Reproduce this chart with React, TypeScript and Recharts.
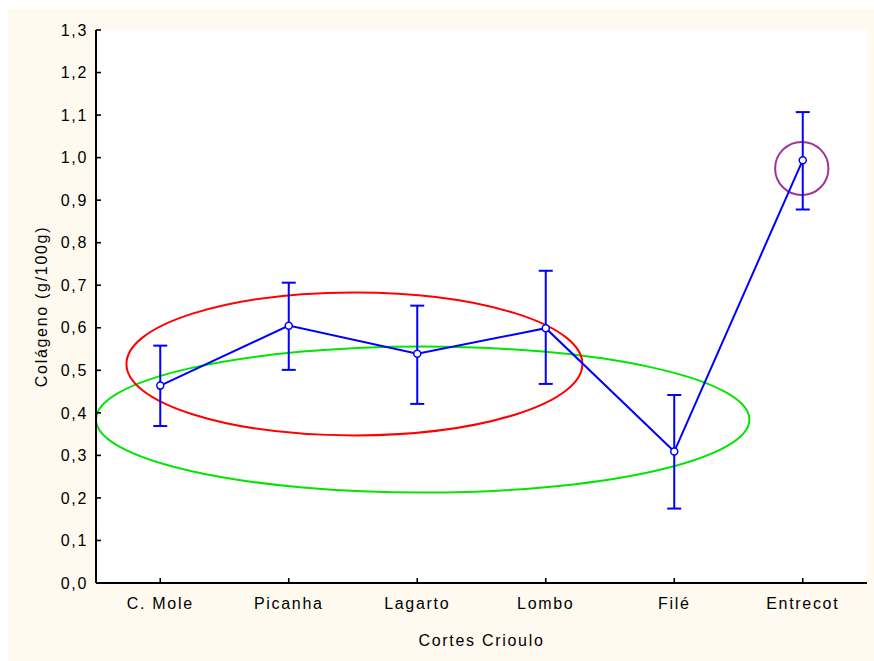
import React from "react";
import {
  CartesianGrid,
  ErrorBar,
  Line,
  LineChart,
  ReferenceArea,
  XAxis,
  YAxis,
} from "recharts";

const categories = ["C. Mole", "Picanha", "Lagarto", "Lombo", "Filé", "Entrecot"];
const means = [0.464, 0.605, 0.539, 0.599, 0.309, 0.994];
const upper = [0.558, 0.706, 0.652, 0.734, 0.442, 1.107];
const lower = [0.369, 0.501, 0.421, 0.468, 0.175, 0.878];
const xTicks = [0, 1, 2, 3, 4, 5];
const yTicks = [0, 0.1, 0.2, 0.3, 0.4, 0.5, 0.6, 0.7, 0.8, 0.9, 1.0, 1.1, 1.2, 1.3];

// annotation ellipses, bounds in data units: [x1, x2, y1, y2]
const redEllipse = [-0.263, 3.285, 0.347, 0.683];
const greenEllipse = [-0.5, 4.585, 0.2125, 0.556];
const purpleCircle = [4.785, 5.2, 0.912, 1.037];

const data = categories.map((name, i) => ({
  x: i,
  name,
  mean: means[i],
  err: [means[i] - lower[i], upper[i] - means[i]],
}));

const fmt = (v: number) => v.toFixed(1).replace(".", ",");
const tickStyle = { fill: "#000", fontSize: 16 };
const axisLine = { stroke: "#000", strokeWidth: 2 };
const tickLine = { stroke: "#000", strokeWidth: 1.6 };

const ellipseShape = (color: string) => (p: any) => (
  <ellipse
    cx={p.x + p.width / 2}
    cy={p.y + p.height / 2}
    rx={Math.abs(p.width) / 2}
    ry={Math.abs(p.height) / 2}
    fill="none"
    stroke={color}
    strokeWidth={2}
  />
);

const YTitle = ({ viewBox }: any) => {
  const x = viewBox.x + 33;
  const y = viewBox.y + viewBox.height / 2;
  return (
    <text
      x={x}
      y={y}
      transform={`rotate(-90 ${x} ${y})`}
      textAnchor="middle"
      dy="0.355em"
      fill="#000"
      fontSize={16}
    >
      Colágeno (g/100g)
    </text>
  );
};

export default function App() {
  return (
    <>
      <style>{`body{margin:0}`}</style>
      <div
        style={{
          position: "absolute",
          left: 8,
          top: 9,
          width: 866,
          height: 652,
          background: "#fefaf0",
          fontFamily: "'Liberation Sans', Arial, sans-serif",
          letterSpacing: "1.7px",
        }}
      >
        <LineChart
          width={866}
          height={652}
          data={data}
          margin={{ top: 21, right: 7, bottom: 0, left: 0 }}
        >
          <CartesianGrid fill="#ffffff" horizontal={false} vertical={false} />
          <XAxis
            dataKey="x"
            type="number"
            domain={[-0.5, 5.5]}
            ticks={xTicks}
            tickFormatter={(i: number) => categories[i]}
            height={78}
            tick={tickStyle}
            tickSize={-5}
            tickMargin={20}
            axisLine={axisLine}
            tickLine={tickLine}
            label={{ value: "Cortes Crioulo", position: "insideBottom", offset: 15, fill: "#000", fontSize: 16 }}
          />
          <XAxis
            xAxisId="top"
            orientation="top"
            dataKey="x"
            type="number"
            domain={[-0.5, 5.5]}
            ticks={xTicks}
            height={0}
            tick={false}
            tickSize={-5}
            axisLine={axisLine}
            tickLine={tickLine}
          />
          <YAxis
            type="number"
            domain={[0, 1.3]}
            ticks={yTicks}
            tickFormatter={fmt}
            width={88}
            tick={tickStyle}
            tickSize={-5}
            tickMargin={13}
            axisLine={axisLine}
            tickLine={tickLine}
            label={<YTitle />}
          />
          <YAxis
            yAxisId="right"
            orientation="right"
            type="number"
            domain={[0, 1.3]}
            ticks={yTicks}
            width={0}
            tick={false}
            tickSize={-5}
            axisLine={axisLine}
            tickLine={tickLine}
          />
          <ReferenceArea
            x1={greenEllipse[0]}
            x2={greenEllipse[1]}
            y1={greenEllipse[2]}
            y2={greenEllipse[3]}
            ifOverflow="visible"
            shape={ellipseShape("#00e600")}
          />
          <ReferenceArea
            x1={redEllipse[0]}
            x2={redEllipse[1]}
            y1={redEllipse[2]}
            y2={redEllipse[3]}
            ifOverflow="visible"
            shape={ellipseShape("#ff0000")}
          />
          <ReferenceArea
            x1={purpleCircle[0]}
            x2={purpleCircle[1]}
            y1={purpleCircle[2]}
            y2={purpleCircle[3]}
            ifOverflow="visible"
            shape={ellipseShape("#a0329b")}
          />
          <Line
            dataKey="mean"
            stroke="#0000ff"
            strokeWidth={2}
            isAnimationActive={false}
            dot={{ r: 3.5, fill: "#fff", stroke: "#0000ff", strokeWidth: 1.5 }}
          >
            <ErrorBar dataKey="err" width={7} stroke="#0000ff" strokeWidth={2} isAnimationActive={false} />
          </Line>
        </LineChart>
      </div>
    </>
  );
}
